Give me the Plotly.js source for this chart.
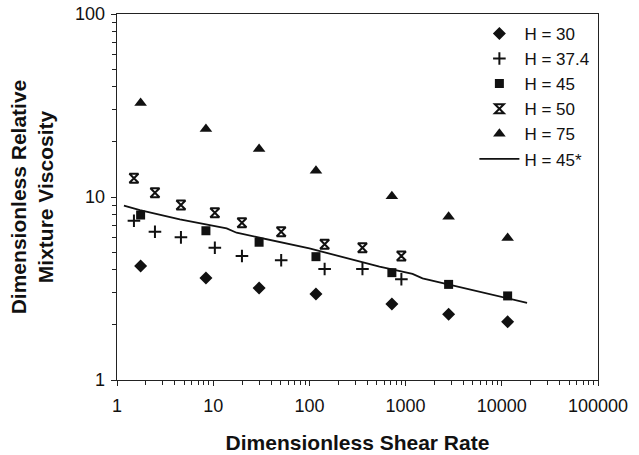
<!DOCTYPE html>
<html>
<head>
<meta charset="utf-8">
<script src="https://cdn.plot.ly/plotly-3.0.1.min.js"></script>
<style>html,body{margin:0;padding:0;background:#fff;}#chart{width:639px;height:455px;}</style>
</head>
<body>
<div id="chart"></div>
<script>
// Data
var xMain = [1.76, 8.4, 30, 117, 720, 2800, 11500];
var yH30 = [4.2, 3.61, 3.18, 2.95, 2.6, 2.29, 2.08];
var yH45 = [7.97, 6.54, 5.66, 4.72, 3.86, 3.33, 2.88];
var yH75 = [32.6, 23.5, 18.3, 13.9, 10.1, 7.8, 5.97];

var xAlt = [1.5, 2.48, 4.62, 10.4, 19.9, 50.9, 144, 356, 904];
var yH374 = [7.42, 6.46, 6.02, 5.28, 4.76, 4.51, 4.04, 4.04, 3.55];
var yH50 = [12.65, 10.56, 9.04, 8.21, 7.24, 6.46, 5.52, 5.28, 4.76];

var xFit = [1.18, 1.73, 4.5, 6.7, 13.8, 17.5, 33, 100, 535, 1180, 1500, 4600, 18300];
var yFit = [8.96, 8.49, 7.55, 7.24, 6.74, 6.38, 5.95, 5.24, 4.16, 3.80, 3.59, 3.13, 2.64];

var seriesNames = ["H = 30", "H = 37.4", "H = 45", "H = 50", "H = 75", "H = 45*"];
var xTitle = "Dimensionless Shear Rate";
var yTitle = "Dimensionless Relative<br>Mixture Viscosity";

var ink = "#111";
var traces = [
  {x: xMain, y: yH30, name: seriesNames[0], mode: "markers",
   marker: {symbol: "diamond", size: 10, color: ink}},
  {x: xAlt, y: yH374, name: seriesNames[1], mode: "markers",
   marker: {symbol: "cross-thin-open", size: 9, color: ink, line: {color: ink, width: 2}}},
  {x: xMain, y: yH45, name: seriesNames[2], mode: "markers",
   marker: {symbol: "square", size: 9, color: ink}},
  {x: xAlt, y: yH50, name: seriesNames[3], mode: "markers",
   marker: {symbol: "hourglass-open", size: 9, color: ink, line: {color: ink, width: 2}}},
  {x: xMain, y: yH75, name: seriesNames[4], mode: "markers",
   marker: {symbol: "triangle-up", size: 11, color: ink}},
  {x: xFit, y: yFit, name: seriesNames[5], mode: "lines",
   line: {color: ink, width: 1.8}}
];

var axisCommon = {
  type: "log", showgrid: false, zeroline: false,
  showline: true, linecolor: "#222", linewidth: 1.3, mirror: true,
  ticks: "outside", ticklen: 5, tickwidth: 1, tickcolor: "#222",
  tickfont: {family: "Liberation Sans, Arial, sans-serif", size: 18, color: "#111"},
  minor: {ticks: "outside", ticklen: 4, tickwidth: 1, tickcolor: "#222", dtick: "D1", showgrid: false}
};

var layout = {
  width: 639, height: 455,
  margin: {l: 117, r: 41, t: 14, b: 75},
  paper_bgcolor: "#fff", plot_bgcolor: "#fff",
  showlegend: true,
  font: {family: "Liberation Sans, Arial, sans-serif", color: "#111"},
  xaxis: Object.assign({}, axisCommon, {
    range: [0, 5], dtick: 1, tickformat: "d", ticklabelstandoff: 4,
    title: {text: "<b>" + xTitle + "</b>", font: {size: 21, color: "#111"}, standoff: 20}
  }),
  yaxis: Object.assign({}, axisCommon, {
    range: [0, 2], dtick: 1, tickformat: "d", ticklabelstandoff: 2,
    title: {text: "<b>" + yTitle + "</b>", font: {size: 21, color: "#111"}, standoff: 15}
  }),
  legend: {
    x: 0.743, y: 0.995, xanchor: "left", yanchor: "top",
    bgcolor: "rgba(0,0,0,0)", borderwidth: 0, itemwidth: 40,
    font: {size: 17, color: "#111"}
  }
};

Plotly.newPlot("chart", traces, layout, {displayModeBar: false, staticPlot: true});
</script>
</body>
</html>
